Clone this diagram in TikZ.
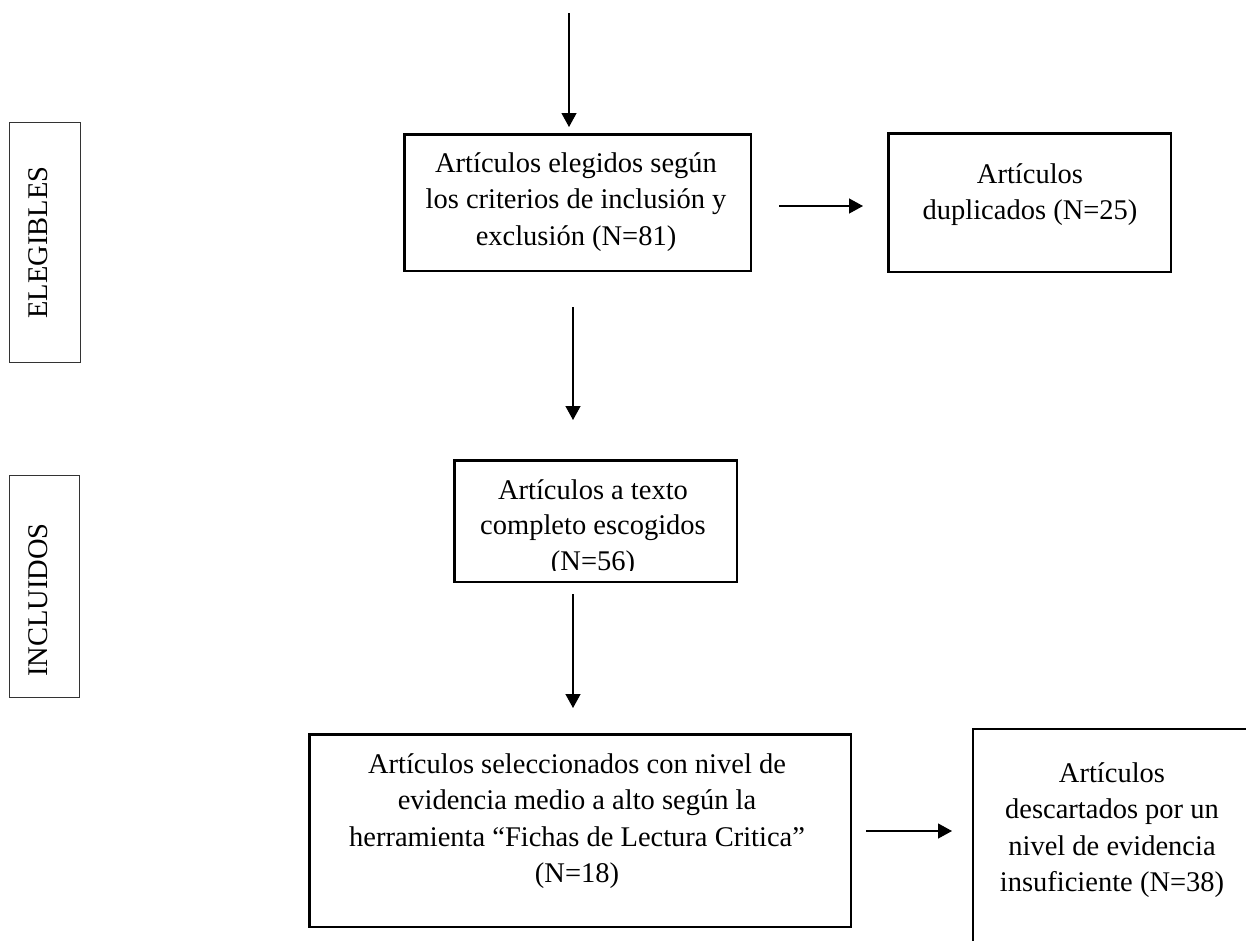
\documentclass[tikz,border=0pt]{standalone}
\usepackage{fontspec}
\setmainfont{Liberation Serif}
\usetikzlibrary{arrows.meta}
\newcommand{\mlines}[1]{\begin{tabular}[t]{@{}c@{}}#1\end{tabular}}
\begin{document}
\begin{tikzpicture}[x=1pt,y=-1pt,
  box/.style={draw=black, line width=2.5pt, inner sep=0pt, outer sep=0pt},
  sidebox/.style={draw=black!80, line width=1.1pt, inner sep=0pt, outer sep=0pt},
  arr/.style={line width=1.3pt, -{Triangle[length=14pt,width=15pt]}},
  txt/.style={anchor=base, inner sep=0pt, font=\fontsize{28.5}{36.5}\selectfont},
  sidetxt/.style={anchor=base, inner sep=0pt, rotate=90, font=\fontsize{28.5}{36.5}\selectfont}]
\clip (0,0) rectangle (1246,940);
\fill[white] (0,0) rectangle (1246,940);

% side labels
\node[sidebox, minimum width=70.8pt, minimum height=239.8pt] (elg) at (45,242.5) {};
\node[sidetxt] (elgt) at (47,242.5) {ELEGIBLES};
\node[sidebox, minimum width=69.8pt, minimum height=221.8pt] (inc) at (44.5,586.5) {};
\node[sidetxt] (inct) at (47,600) {INCLUIDOS};

% boxes
\node[box, minimum width=346.5pt, minimum height=136.5pt] (b1) at (577.5,202.5) {};
\node[txt] (t1) at (576,172) {\mlines{Artículos elegidos según\\los criterios de inclusión y\\exclusión (N=81)}};

\node[box, minimum width=282.5pt, minimum height=138.5pt] (b2) at (1029.5,202.5) {};
\node[txt] (t2) at (1030,183) {\mlines{Artículos\\duplicados (N=25)}};

\node[box, minimum width=282.5pt, minimum height=121.5pt] (b3) at (595.5,521) {};
\begin{scope}
\clip (453,459) rectangle (738,570.5);
\node[txt, font=\fontsize{28.5}{35.5}\selectfont] (t3) at (593,499) {\mlines{Artículos a texto\\completo escogidos\\(N=56)}};
\end{scope}

\node[box, minimum width=541.5pt, minimum height=192.5pt] (b4) at (580,830.5) {};
\node[txt] (t4) at (577,773) {\mlines{Artículos seleccionados con nivel de\\evidencia medio a alto según la\\herramienta “Fichas de Lectura Critica”\\(N=18)}};

\node[box, minimum width=326.75pt, minimum height=270.75pt] (b5) at (1136.6,864.6) {};
\node[txt] (t5) at (1112,782) {\mlines{Artículos\\descartados por un\\nivel de evidencia\\insuficiente (N=38)}};

% connectors
\coordinate (a0s) at (569,13);  \coordinate (a0e) at (569,127);
\coordinate (a1s) at (573,307); \coordinate (a1e) at (573,420);
\coordinate (a2s) at (573,594); \coordinate (a2e) at (573,708);
\coordinate (r1s) at (779,206); \coordinate (r1e) at (863,206);
\coordinate (r2s) at (866,831); \coordinate (r2e) at (952,831);
\draw[arr] (a0s) -- (a0e);
\draw[arr] (a1s) -- (a1e);
\draw[arr] (a2s) -- (a2e);
\draw[arr] (r1s) -- (r1e);
\draw[arr] (r2s) -- (r2e);
\end{tikzpicture}
\end{document}
